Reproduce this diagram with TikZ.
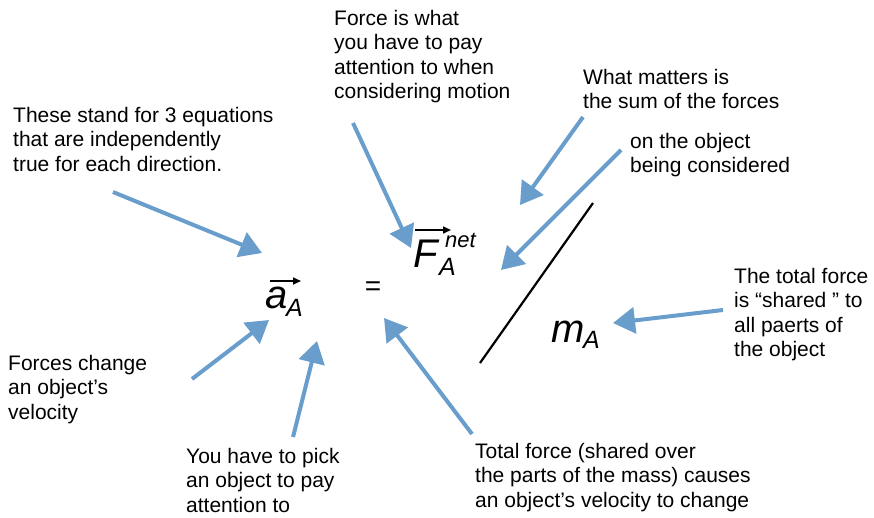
\documentclass[tikz,border=0pt]{standalone}
\usepackage{fontspec}
\setmainfont{Liberation Sans}
\usetikzlibrary{arrows.meta}
\definecolor{arrblue}{RGB}{104,157,204}
\begin{document}
\begin{tikzpicture}[x=1pt,y=-1pt,
  note/.style={anchor=north west,inner sep=0pt,align=left,font=\fontsize{21}{24.5}\selectfont},
  pointer/.style={draw=arrblue,line width=4pt,-{Triangle[length=22pt,width=26pt]}},
  mathbig/.style={inner sep=0pt,anchor=base west,font=\fontsize{40}{40}\selectfont\itshape},
  mathsmall/.style={inner sep=0pt,anchor=base west,font=\fontsize{25}{25}\selectfont\itshape},
  vecarrow/.style={line width=1.6pt,-{Triangle[length=8pt,width=7pt]}},
  slash/.style={line width=2.2pt}]
\useasboundingbox (0,0) rectangle (874,517);

% annotation texts
\node[note] (eqs) at (13,107) {These stand for 3 equations\\that are independently\\true for each direction.};
\node[note] (force) at (334,10) {Force is what\\you have to pay\\attention to when\\considering motion};
\node[note] (sum) at (583,69) {What matters is\\the sum of the forces};
\node[note] (onobj) at (630,133) {on the object\\being considered};
\node[note] (shared) at (734,268) {The total force\\is “shared ” to\\all paerts of\\the object};
\node[note] (vel) at (8,355) {Forces change\\an object’s\\velocity};
\node[note] (pick) at (186,448) {You have to pick\\an object to pay\\attention to};
\node[note] (total) at (475,443) {Total force (shared over\\the parts of the mass) causes\\an object’s velocity to change};

% equation
\node[mathbig] (a) at (265,308) {a};
\node[mathsmall] (aA) at (286,316) {A};
\node[inner sep=0pt,font=\fontsize{28}{28}\selectfont] (eq) at (373,289) {=};
\node[mathbig] (F) at (413,267) {F};
\node[mathsmall] (FA) at (439,275) {A};
\node[inner sep=0pt,anchor=base west,font=\fontsize{22}{22}\selectfont\itshape] (net) at (445,247) {net};
\node[mathbig] (m) at (551,342) {m};
\node[mathsmall] (mA) at (583,348) {A};

% vector arrows
\coordinate (avs) at (270,281); \coordinate (ave) at (301,281);
\coordinate (fvs) at (415,230); \coordinate (fve) at (451,230);
\draw[vecarrow] (avs) -- (ave);
\draw[vecarrow] (fvs) -- (fve);

% fraction slash
\coordinate (s1) at (593,203); \coordinate (s2) at (480,363);
\draw[slash] (s1) -- (s2);

% pointers
\coordinate (t1) at (113,192); \coordinate (h1) at (262,253);
\coordinate (t2) at (353,123); \coordinate (h2) at (411,248);
\coordinate (t3) at (583,117); \coordinate (h3) at (520,205);
\coordinate (t4) at (621,150); \coordinate (h4) at (501,270);
\coordinate (t5) at (723,310); \coordinate (h5) at (613,323);
\coordinate (t6) at (192,379); \coordinate (h6) at (269,320);
\coordinate (t7) at (293,437); \coordinate (h7) at (317,341);
\coordinate (t8) at (472,434); \coordinate (h8) at (384,318);
\foreach \i in {1,...,8} {\draw[pointer] (t\i) -- (h\i);}
\end{tikzpicture}
\end{document}
